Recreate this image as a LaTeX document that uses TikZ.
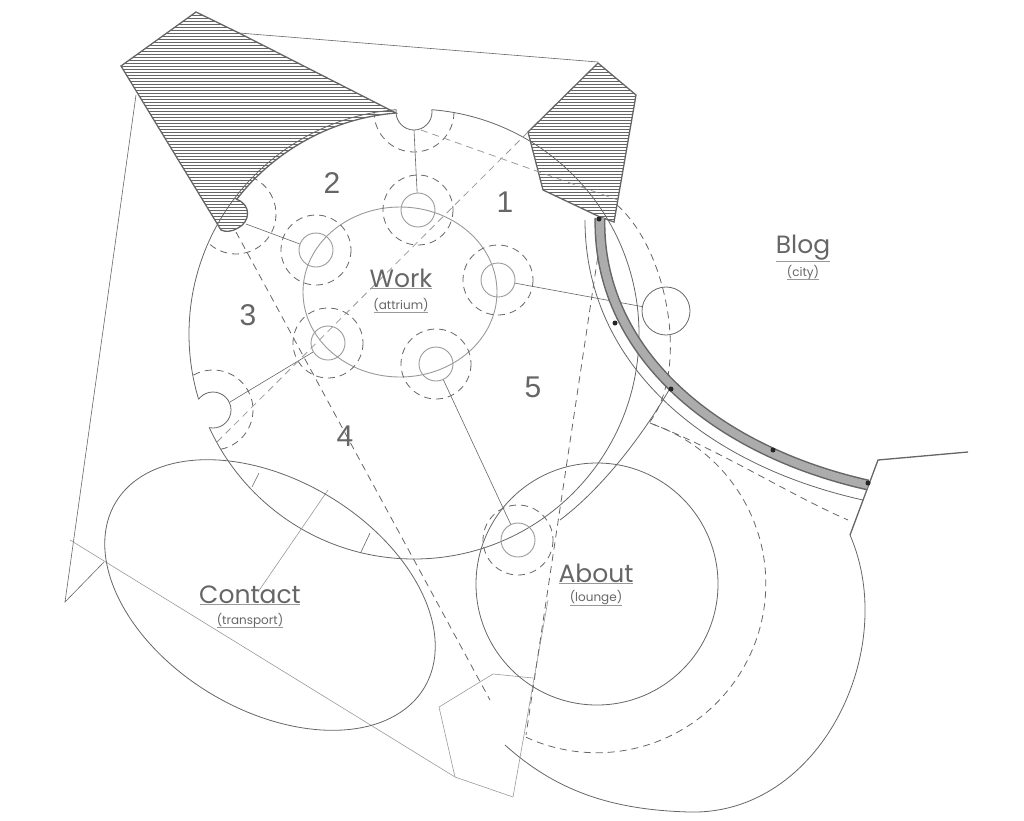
\documentclass[tikz,border=0pt]{standalone}
\usepackage{fontspec}
\setmainfont{Poppins}
\newfontfamily\numfont{Liberation Sans}
\usetikzlibrary{patterns}
\definecolor{ln}{gray}{0.4}
\definecolor{lt}{gray}{0.6}
\begin{document}
\begin{tikzpicture}[x=1pt,y=-1pt,
  base/.style={draw=ln,line width=0.8pt},
  thin/.style={draw=lt,line width=0.6pt},
  dsh/.style={draw=ln,line width=0.8pt,dash pattern=on 7pt off 5pt},
  hatch/.style={draw=ln,line width=1.3pt,pattern={horizontal lines},pattern color=ln},
  sm/.style={circle,draw=lt,line width=0.9pt,minimum size=34pt,inner sep=0pt},
  num/.style={font=\numfont\fontsize{30}{30}\selectfont,text=ln},
  ttl/.style={font=\fontsize{25}{25}\selectfont,text=ln},
  sub/.style={font=\fontsize{12}{12}\selectfont,text=ln},
  dot/.style={circle,fill=black!85,inner sep=0pt,minimum size=5pt}]
\useasboundingbox (0,0) rectangle (1024,820);
% guide lines
\coordinate (g1) at (136,95); \coordinate (g2) at (65,602); \coordinate (g3) at (104,562);
\draw[base,line width=0.6pt] (g1) -- (g2) -- (g3);
\coordinate (h1) at (239,33); \coordinate (h2) at (598,62);
\draw[base,line width=0.6pt] (h1) -- (h2);
\coordinate (k1) at (70,540); \coordinate (k2) at (455,777); \coordinate (k3) at (513,797);
\draw[thin] (k1) -- (k2) -- (k3);
\coordinate (p1) at (439,707); \coordinate (p2) at (493,674); \coordinate (p3) at (533,678); \coordinate (p4) at (548,600);
\draw[thin] (k2) -- (p1) -- (p2) -- (p3);
\draw[thin] (p4) -- (k3);
% Work circle
\coordinate (W) at (414,334);
\draw[base] (W) circle (225);
\foreach \c in {(414,112),(213,410)} {\fill[white] \c circle (18);}
\begin{scope}
\clip (W) circle (225);
\foreach \c in {(414,112),(213,410)} {\draw[base] \c circle (18); \draw[dsh] \c circle (40);}
\draw[dsh] (236,214) circle (40);
\end{scope}
% hatched shapes
\draw[hatch] (121,66) -- (196,12) -- (239,33) -- (396,113)
  arc[start angle=-94.7,end angle=-142.2,radius=225]
  .. controls (252,205) and (250,222) .. (238,228)
  .. controls (232,232) and (225,232) .. (221,230) -- cycle;
\draw[hatch] (528,132) -- (598,63) -- (636,95) -- (614,222) -- (600,217) -- (543,190) -- cycle;
% inner ring
\draw[lt,line width=0.9pt] (400,292) ellipse[x radius=97,y radius=85];
% small circles
\node[sm] (c1) at (418,210) {}; \node[sm] (c2) at (316,250) {};
\node[sm] (c3) at (498,280) {}; \node[sm] (c4) at (328,343) {};
\node[sm] (c5) at (436,364) {}; \node[sm] (c6) at (518,540) {};
\foreach \n in {c1,c2,c3,c4,c5,c6} {\draw[dsh] (\n.center) circle (35);}
\node[circle,draw=ln,line width=0.8pt,minimum size=48pt,inner sep=0pt] (bc) at (666,311) {};
\coordinate (n1) at (414,130); \coordinate (n2) at (246,224); \coordinate (n3) at (230,402);
\draw[base,line width=0.6pt] (c1) -- (n1);
\draw[base,line width=0.6pt] (c2) -- (n2);
\draw[base,line width=0.6pt] (c4) -- (n3);
\draw[base,line width=0.6pt] (c3) -- (bc);
\draw[base,line width=0.6pt] (c5) -- (c6);
% dashed lines
\coordinate (d1) at (421,130); \coordinate (d2) at (618,200);
\coordinate (d3) at (528,132); \coordinate (d4) at (214,445);
\coordinate (d5) at (236,232); \coordinate (d6) at (490,700);
\coordinate (d7) at (603,222); \coordinate (d8) at (526,735);
\draw[dsh,draw=lt] (d1) -- (d2);
\draw[dsh,draw=lt] (d3) -- (d4);
\draw[dsh] (d5) -- (d6);
\draw[dsh] (d7) -- (d8);
% ticks and contact line
\draw[base,line width=0.6pt] (259,473) -- (252,487);
\draw[base,line width=0.6pt] (370,533) -- (361,552);
\coordinate (t1) at (328,490); \coordinate (t2) at (258,592);
\draw[thin] (t1) -- (t2);
% Contact ellipse
\draw[base] plot[domain=0:360,samples=90,smooth cycle,variable=\t]
  ({270+180*cos(\t)*cos(31)-115*sin(\t)*sin(31)},{595+180*cos(\t)*sin(31)+115*sin(\t)*cos(31)});
% About
\coordinate (A) at (597,584);
\draw[base] (A) circle (121);
\draw[dsh] (617,205) .. controls (668,250) and (690,370) .. (649,423)
  arc[start angle=-72,end angle=116,radius=169];
\draw[dsh] (650,423) .. controls (720,450) and (790,495) .. (848,520);
\draw[base] (672,385) .. controls (640,440) and (600,490) .. (560,520);
% outer shape
\coordinate (o1) at (850,535); \coordinate (o2) at (878,460); \coordinate (o3) at (968,452);
\draw[base,line width=1.3pt] (o1) -- (o2) -- (o3);
\draw[base] (o1) .. controls (900,650) and (820,815) .. (690,812) .. controls (610,810) and (555,790) .. (505,745);
% Blog band
\draw[base,line width=0.8pt] (585,220) .. controls (585,365) and (705,465) .. (863,500);
\draw[ln,line width=11pt] (600,218) .. controls (597,350) and (712,450) .. (868,485);
\draw[gray!65,line width=8pt] (600,218) .. controls (597,350) and (712,450) .. (868,485);
\node[dot] at (599,219) {}; \node[dot] at (615,323) {}; \node[dot] at (671,389) {};
\node[dot] at (773,450) {}; \node[dot] at (868,483) {};
% labels
\node[num] (L1) at (505,202) {1}; \node[num] (L2) at (332,183) {2};
\node[num] (L3) at (248,315) {3}; \node[num] (L4) at (345,436) {4};
\node[num] (L5) at (533,387) {5};
\node[ttl] (tw) at (401,278) {Work}; \node[sub] (sw) at (401,305) {(attrium)};
\node[ttl] (tb) at (803,248) {Blog}; \node[sub] (sb) at (803,272) {(city)};
\node[ttl] (tc) at (250,595) {Contact}; \node[sub] (sc) at (250,620) {(transport)};
\node[ttl] (ta) at (596,573) {About}; \node[sub] (sa) at (596,598) {(lounge)};
\foreach \n in {tw,sw,tb,sb,tc,sc,ta,sa} {\draw[lt,line width=0.6pt] (\n.south west)++(4,-3) -- ([xshift=-4pt,yshift=3pt]\n.south east);}
\end{tikzpicture}
\end{document}
